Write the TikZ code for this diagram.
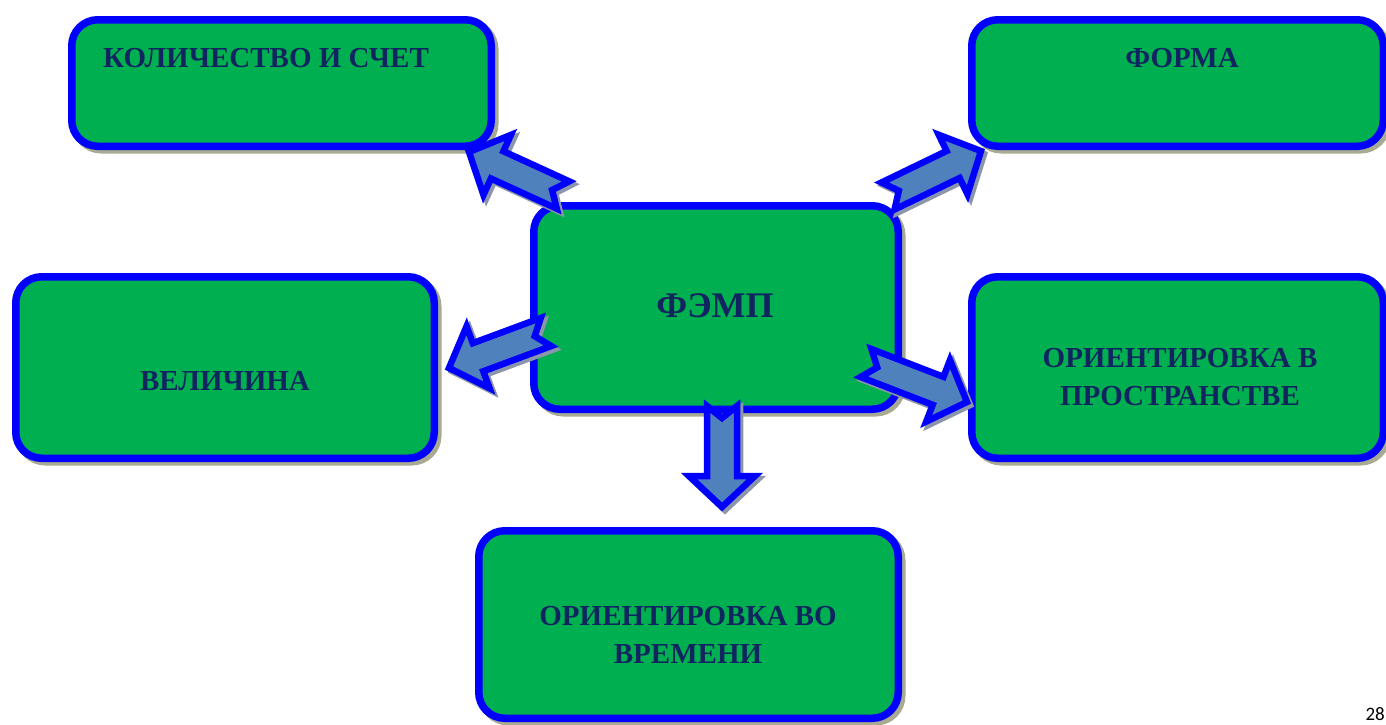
\documentclass[tikz,border=0pt]{standalone}
\usepackage{fontspec}
\setmainfont{Liberation Serif}
\newfontfamily\pagenumfont{Carlito}
\usetikzlibrary{calc}
\definecolor{boxgreen}{RGB}{0,176,80}
\definecolor{boxblue}{RGB}{0,0,255}
\definecolor{arrowfill}{RGB}{79,129,189}
\definecolor{navytext}{RGB}{16,36,96}
\definecolor{boxshadow}{RGB}{168,170,145}
\definecolor{arrowshadowcol}{RGB}{140,150,170}
\tikzset{
  box/.style={rectangle, rounded corners=26pt, draw=boxblue, line width=7.5pt, fill=boxgreen,
    inner sep=0pt,
    preaction={draw=boxshadow, fill=boxshadow, line width=7.5pt,
      transform canvas={shift={(3.5pt,-3.5pt)}}}},
  lbl/.style={font=\bfseries\fontsize{29}{38}\selectfont, text=navytext, inner sep=0pt, align=center},
  arrowbody/.style={draw=boxblue, fill=arrowfill, line width=6.5pt, line join=miter},
  arrowshade/.style={draw=arrowshadowcol, fill=arrowshadowcol, line width=6.5pt, line join=miter,
    transform canvas={shift={(3pt,-3pt)}}},
}
\newcommand\blockarrow[2]{%
  \coordinate (t1) at ($(#1)!15pt!90:(#2)$);
  \coordinate (t2) at ($(#1)!15pt!-90:(#2)$);
  \coordinate (nt) at ($(#1)!12pt!(#2)$);
  \coordinate (cc) at ($(#2)!31pt!(#1)$);
  \coordinate (s1) at ($(cc)!15pt!-90:(#1)$);
  \coordinate (s2) at ($(cc)!15pt!90:(#1)$);
  \coordinate (h1) at ($(cc)!33pt!-90:(#1)$);
  \coordinate (h2) at ($(cc)!33pt!90:(#1)$);
  \draw[arrowshade] (t1) -- (nt) -- (t2) -- (s2) -- (h2) -- (#2) -- (h1) -- (s1) -- cycle;
  \draw[arrowbody] (t1) -- (nt) -- (t2) -- (s2) -- (h2) -- (#2) -- (h1) -- (s1) -- cycle;
}
\begin{document}
\begin{tikzpicture}[x=1pt,y=-1pt]
\useasboundingbox (0,0) rectangle (1386,724);
\clip (0,0) rectangle (1386,724);
\fill[white] (0,0) rectangle (1386,724);

% boxes
\node[box, minimum width=419.5pt, minimum height=126.5pt] (qty) at (281.5,83) {};
\node[box, minimum width=411.5pt, minimum height=126.5pt] (form) at (1177.5,83) {};
\node[box, minimum width=364.5pt, minimum height=203.5pt] (femp) at (716,307.5) {};
\node[box, minimum width=418.5pt, minimum height=181.5pt] (size) at (225,367.5) {};
\node[box, minimum width=411.5pt, minimum height=181.5pt] (space) at (1177.5,367.5) {};
\node[box, minimum width=419.5pt, minimum height=187.5pt] (time) at (688.5,624.5) {};

% labels
\node[lbl, anchor=base west] (qtyt) at (103,67) {КОЛИЧЕСТВО И СЧЕТ};
\node[lbl, anchor=base] (formt) at (1182,67) {ФОРМА};
\node[lbl, anchor=base, font=\bfseries\fontsize{36}{40}\selectfont] (fempt) at (715,317) {ФЭМП};
\node[lbl, anchor=base] (sizet) at (225,390) {ВЕЛИЧИНА};
\node[lbl] (spacet) at (1180,377) {ОРИЕНТИРОВКА В\\ПРОСТРАНСТВЕ};
\node[lbl] (timet) at (688,635) {ОРИЕНТИРОВКА ВО\\ВРЕМЕНИ};

% arrow end points
\coordinate (a1s) at (563,195);
\coordinate (a1e) at (469,152);
\coordinate (a2s) at (888,196);
\coordinate (a2e) at (981,151);
\coordinate (a3s) at (546,332);
\coordinate (a3e) at (449,368);
\coordinate (a4s) at (866,363);
\coordinate (a4e) at (967,402);
\coordinate (a5s) at (722,406);
\coordinate (a5e) at (722,507);

\blockarrow{a1s}{a1e}
\blockarrow{a2s}{a2e}
\blockarrow{a3s}{a3e}
\blockarrow{a4s}{a4e}
\blockarrow{a5s}{a5e}

% page number
\node[anchor=base east, inner sep=0pt, font=\pagenumfont\fontsize{19}{22}\selectfont, text=black] (pg) at (1385,720) {28};
\end{tikzpicture}
\end{document}
